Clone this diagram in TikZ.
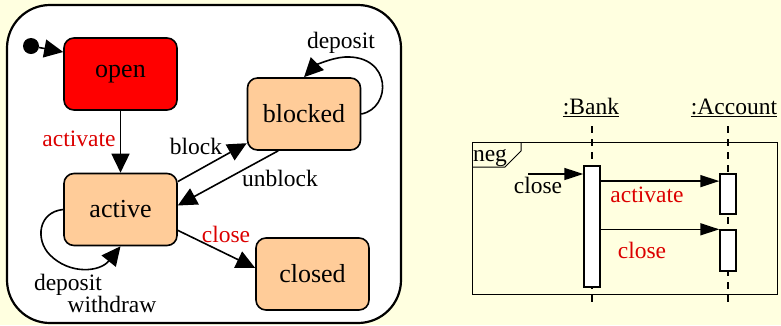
\documentclass[tikz,border=0pt]{standalone}
\usepackage{fontspec}
\setmainfont{Liberation Serif}
\usetikzlibrary{arrows.meta}
\definecolor{bg}{RGB}{255,255,224}
\definecolor{statefill}{RGB}{255,204,153}
\definecolor{labelred}{RGB}{220,0,0}

\begin{document}
\begin{tikzpicture}[x=1pt,y=-1pt,
  state/.style={draw, line width=1.6pt, rounded corners=10pt,
    minimum width=113pt, minimum height=72pt, fill=statefill,
    font=\fontsize{26}{30}\selectfont, inner sep=0pt},
  lbl/.style={font=\fontsize{23.5}{26}\selectfont, inner sep=0pt, anchor=base},
  redlbl/.style={lbl, text=labelred},
  tr/.style={line width=1.6pt, -{Triangle[length=19pt,width=18pt]}},
  msg/.style={line width=1.5pt, -{Triangle[length=19pt,width=12pt]}},
  life/.style={line width=1.5pt, dash pattern=on 7pt off 6pt},
  bar/.style={draw, fill=white, line width=1.4pt, minimum width=16pt, inner sep=0pt}
]
\fill[bg] (0,0) rectangle (781,325);
\useasboundingbox (0,0) rectangle (781,325);

% ---- state machine ----
\draw[line width=2.2pt, fill=white, rounded corners=43pt] (7,5) rectangle (401,323);

\node[state, fill=red] (open) at (120.5,74) {open};
\node[state] (blocked) at (304,114) {blocked};
\node[state] (active) at (120.5,209.5) {active};
\node[state] (closed) at (312.5,274) {closed};
\node[circle, fill=black, inner sep=0pt, minimum size=16pt] (init) at (31,46) {};

\draw[tr] (init) -- (open.159);
\draw[tr] (open) -- (active);
\draw[tr] (active.26) -- (blocked.207);
\draw[tr] (blocked.235) -- (active.4);
\draw[tr] (active.-20) -- (closed.174);
\draw[tr] (active.west) .. controls (38,212) and (35,240) .. (50,255)
  .. controls (70,275) and (100,272) .. (active.south);
\draw[tr] (blocked.east) .. controls (392,108) and (392,55) .. (345,57)
  .. controls (330,58) and (315,66) .. (blocked.north);

\node[redlbl] (lact) at (79,146) {activate};
\node[lbl] (lblock) at (196,154) {block};
\node[lbl] (lunblock) at (280,186) {unblock};
\node[redlbl] (lclose) at (226,242) {close};
\node[lbl] (ldep1) at (341,48) {deposit};
\node[lbl] (ldep2) at (68,290) {deposit};
\node[lbl] (lwd) at (112,312.5) {withdraw};

% ---- sequence fragment ----
\draw[line width=1pt] (472,142.5) rectangle (777,294);
\draw[line width=1pt] (472,167) -- (505,167) -- (521,151) -- (521,142.5);
\node[lbl] (lneg) at (490,161.5) {neg};

\node[lbl] (bank) at (591,114) {\underline{:Bank}};
\node[lbl] (account) at (734,114) {\underline{:Account}};

\coordinate (banktop) at (592,126);
\coordinate (bankbot) at (592,308);
\coordinate (acctop) at (728,126);
\coordinate (accbot) at (728,308);
\draw[life] (banktop) -- (bankbot);
\draw[life] (acctop) -- (accbot);

\node[bar, minimum height=121pt] (bankbar) at (592,226.5) {};
\node[bar, minimum height=40pt] (acc1) at (728,194) {};
\node[bar, minimum height=41pt] (acc2) at (728,250.5) {};

\coordinate (found) at (528,174);
\draw[msg] (found) -- (bankbar.west |- found);
\draw[msg] (bankbar.east |- acc1.124) -- (acc1.124);
\draw[msg] (bankbar.east |- acc2.north west) -- (acc2.north west);

\node[lbl] (lclose2) at (538,193.3) {close};
\node[redlbl] (lact2) at (647,202.7) {activate};
\node[redlbl] (lclose3) at (642,258.3) {close};
\end{tikzpicture}
\end{document}
